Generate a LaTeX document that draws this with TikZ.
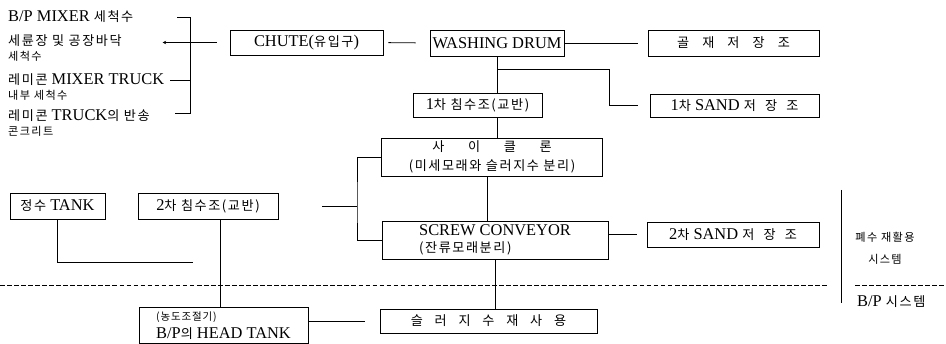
\documentclass[tikz,border=0pt]{standalone}
\usepackage{fontspec}
\setmainfont{Liberation Serif}
\newfontfamily\kofont{Noto Sans CJK KR}[Scale=0.8, LetterSpace=12]
\newfontfamily\kolinefont{Noto Sans CJK KR}[Scale=0.68, LetterSpace=12]
\newfontfamily\kosmallfont{Noto Sans CJK KR}[Scale=0.64, LetterSpace=8]
\newcommand{\ko}[1]{{\kofont #1}}
\newcommand{\kol}[1]{{\kolinefont #1}}
\newcommand{\kos}[1]{{\kosmallfont #1}}
\newcommand{\px}{0.03cm}
\usetikzlibrary{arrows.meta}

\begin{document}
\begin{tikzpicture}[
  x=0.03cm,
  y=-0.03cm,
  every node/.style={font=\fontsize{14}{15}\selectfont, inner sep=0pt},
  box/.style 2 args={draw, line width=0.7pt, minimum width=#1*\px, minimum height=#2*\px, align=center},
  link/.style={line width=0.8pt},
  split/.style={line width=0.8pt, dash pattern=on 4pt off 2pt},
  source/.style={anchor=west, align=left, font=\fontsize{14}{12.5}\selectfont}
]
  \useasboundingbox (0,0) rectangle (946,344);

  % ---- incoming wash water ---------------------------------------------
  \node[source] (src1) at (8,17) {B/P MIXER \ko{세척수}};
  \node[source] (src2) at (8,48) {\ko{세륜장 및 공장바닥}\\\kol{세척수}};
  \node[source] (src3) at (8,87) {\ko{레미콘} MIXER TRUCK\\\kol{내부 세척수}};
  \node[source] (src4) at (8,123) {\ko{레미콘} TRUCK\ko{의 반송}\\\kol{콘크리트}};

  % ---- top row -----------------------------------------------------------
  \node[box={153}{25}] (chute) at (306.5,42.5) {CHUTE(\ko{유입구})};
  \node[box={134}{26}] (drum) at (497,43) {WASHING DRUM};
  \node[box={171}{26}] (aggr) at (733.5,43)
    {\ko{골\hspace{1em}재\hspace{1em}저\hspace{1em}장\hspace{1em}조}};

  % ---- first stage ---------------------------------------------------------
  \node[box={129}{24}] (settle1) at (477.5,105) {1\ko{차 침수조(교반)}};
  \node[box={169}{23}] (sand1) at (734.5,105.5) {1\ko{차} SAND \ko{저\hspace{0.7em}장\hspace{0.7em}조}};
  \node[box={221}{38}, font=\fontsize{14}{16}\selectfont] (cyclone) at (492,157)
    {\ko{사\hspace{1.8em}이\hspace{1.8em}클\hspace{1.8em}론}\\\ko{(미세모래와 슬러지수 분리)}};

  % ---- second stage --------------------------------------------------------
  \node[box={95}{26}] (fresh) at (57.5,206) {\ko{정수} TANK};
  \node[box={140}{26}] (settle2) at (208,206) {2\ko{차 침수조(교반)}};
  \node[box={226}{38}, align=left] (screw) at (495,240) {SCREW CONVEYOR\\\ko{(잔류모래분리)}};
  \node[box={172}{25}] (sand2) at (733,234.5) {2\ko{차} SAND \ko{저\hspace{0.7em}장\hspace{0.7em}조}};

  % ---- below the system line -------------------------------------------
  \node[box={169}{36}, align=left] (head) at (223.5,325.5) {\kos{(농도조절기)}\\B/P\ko{의} HEAD TANK};
  \node[box={217}{24}] (reuse) at (488.5,321)
    {\ko{슬\hspace{0.9em}러\hspace{0.9em}지\hspace{0.9em}수\hspace{0.9em}재\hspace{0.9em}사\hspace{0.9em}용}};

  % ---- system labels -------------------------------------------------------
  \node (recycle) at (885,237) {\kol{폐수 재활용}};
  \node (recyclesys) at (885,259) {\kol{시스템}};
  \node[anchor=west] (bpsys) at (857,302) {B/P \ko{시스템}};

  % ---- bracket of the sources ------------------------------------------
  \draw[link] (177,17) -- (190,17) -- (190,113) -- (175,113);
  \draw[link] (170,80) -- (190,80);
  \draw[link, shorten <=13*\px, -{Stealth[length=3pt, width=3pt]}] (chute.west) -- ++(-67,0);

  % ---- connectors ------------------------------------------------------------
  \draw[link, shorten <=5*\px, shorten >=14*\px] (chute) -- (drum);
  \draw[link, shorten >=10*\px] (drum) -- (aggr);
  \draw[link] (drum.south) -- (drum.south |- settle1.north);
  \coordinate (fork1) at (497,69);
  \coordinate (bend1) at (609,105.5);
  \draw[link, shorten >=12*\px] (fork1) -| (bend1) -- (sand1.west);
  \draw[link] (settle1.south -| drum.south) -- (cyclone.north -| drum.south);
  \draw[link] ([xshift=-5*\px]cyclone.south) -- ([xshift=-5*\px]cyclone.south |- screw.north);
  \coordinate (joint) at (357,206);
  \draw[link] (cyclone.west) -| (joint) |- (screw.west);
  \draw[link, shorten <=44*\px] (settle2.east) -- (joint);
  \coordinate (freshend) at (193,262);
  \draw[link] (fresh.south) |- (freshend);
  \draw[link] ([xshift=12*\px]settle2.south) -- ([xshift=12*\px]settle2.south |- head.north);
  \draw[link] (screw.south) -- (screw.south |- reuse.north);
  \draw[link, shorten >=10*\px] (screw.east |- sand2.west) -- (sand2.west);
  \draw[link, shorten >=15*\px] (head.east |- reuse.west) -- (reuse.west);

  % ---- system boundary ---------------------------------------------------
  \coordinate (septop) at (841,190);
  \coordinate (sepbot) at (841,303);
  \draw[link] (septop) -- (sepbot);
  \draw[split] (0,285) -- (828,285);
  \draw[split] (855,285) -- (946,285);
\end{tikzpicture}
\end{document}
